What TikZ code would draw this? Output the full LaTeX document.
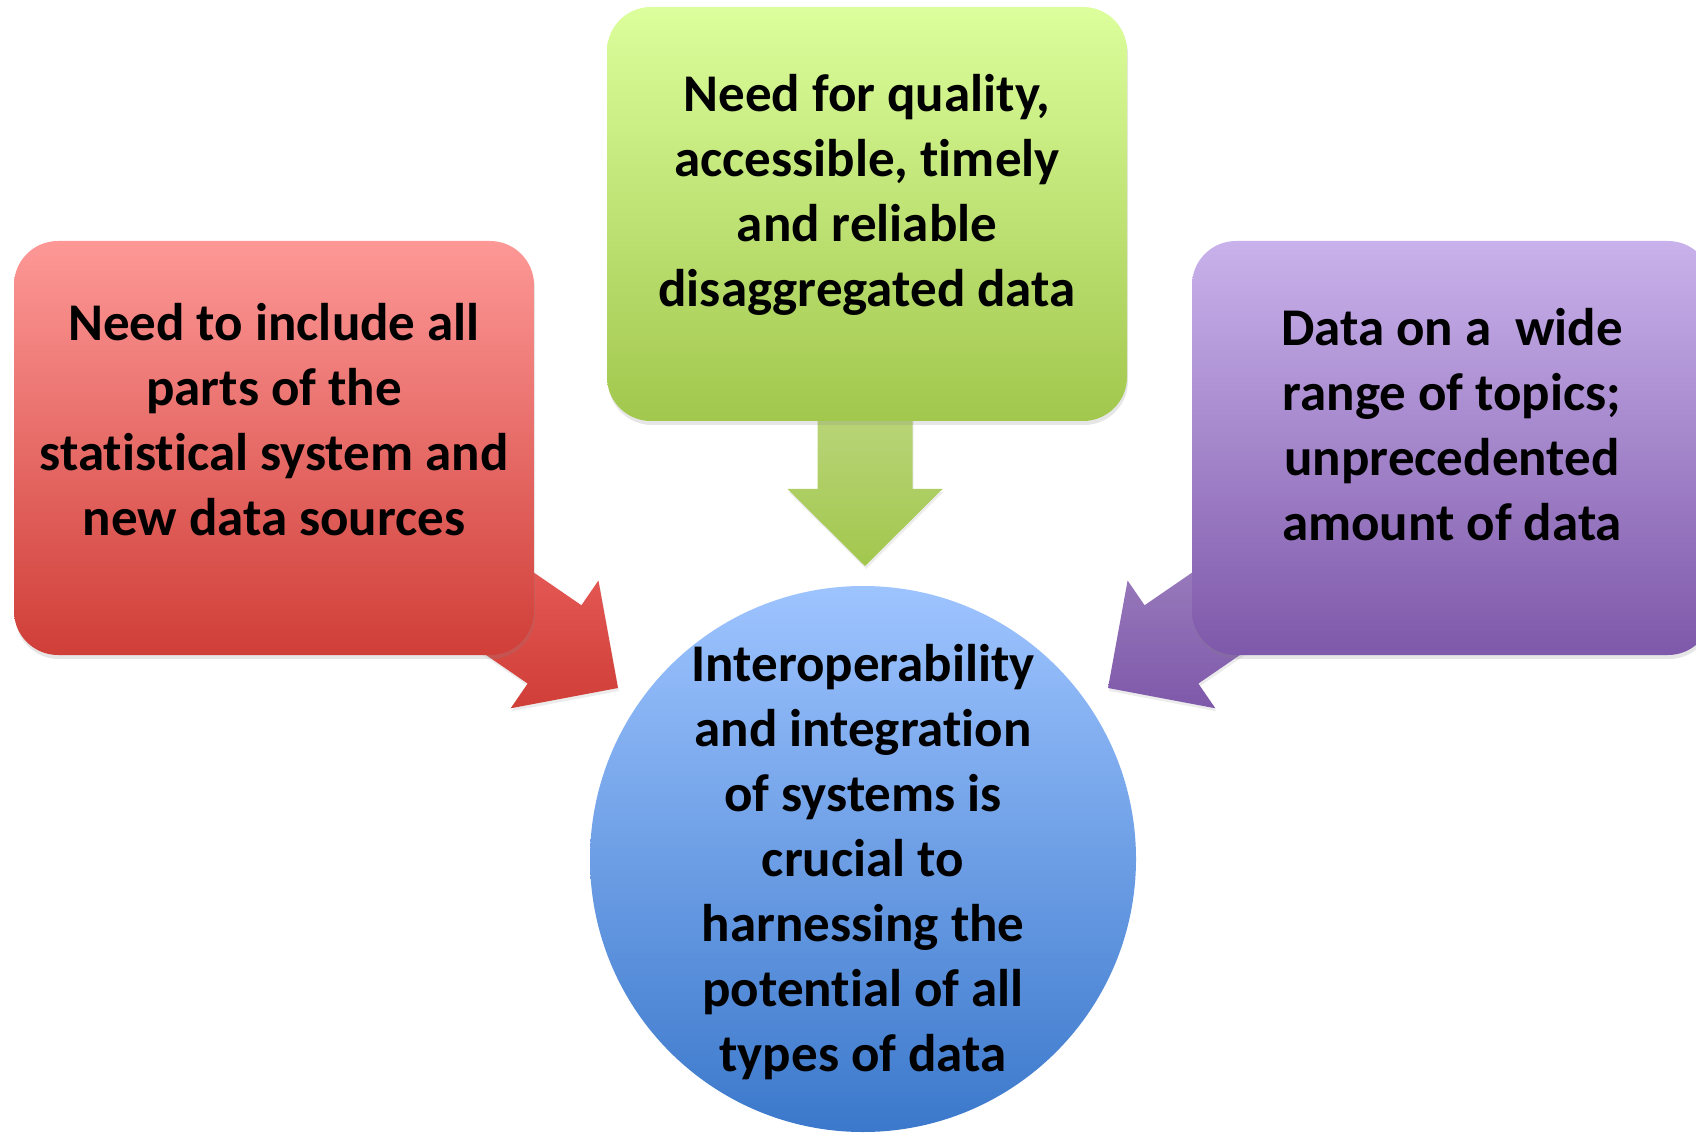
\documentclass[tikz,border=0pt]{standalone}
\usepackage{fontspec}
\setmainfont{Carlito}[Ligatures=NoCommon]
\usepackage{tikz}
\usetikzlibrary{calc,shadows}
\definecolor{redtop}{HTML}{FD9896}
\definecolor{redbot}{HTML}{D03E38}
\definecolor{greentop}{HTML}{DCFE9C}
\definecolor{greenbot}{HTML}{A2C74D}
\definecolor{purptop}{HTML}{C9B2EB}
\definecolor{purpbot}{HTML}{7E58AA}
\definecolor{bluetop}{HTML}{9EC4FF}
\definecolor{bluebot}{HTML}{3B78CB}
\tikzset{
  box/.style={rectangle, rounded corners=22pt, minimum width=260pt, minimum height=207pt,
              inner sep=0pt, drop shadow={opacity=0.2, shadow xshift=0.5pt, shadow yshift=-2pt}},
  inclbox/.style={box, top color=redtop, bottom color=redbot},
  qualbox/.style={box, top color=greentop, bottom color=greenbot},
  rangebox/.style={box, top color=purptop, bottom color=purpbot},
  hub/.style={circle, minimum size=273pt, inner sep=0pt, top color=bluetop, bottom color=bluebot},
  txt/.style={align=center, font=\fontsize{26.5}{32.5}\selectfont\bfseries, text=black, inner sep=0pt},
  blk/.style={draw=none, drop shadow={opacity=0.15, shadow xshift=0.5pt, shadow yshift=-1.5pt}},
  redarr/.style={blk, top color=red!45!redbot!70!white, bottom color=redbot},
  greenarr/.style={blk, top color=greenbot!70!white, bottom color=greenbot},
  purparr/.style={blk, top color=purpbot!70!white, bottom color=purpbot}
}
% block arrow: style, foot, tip
\newcommand{\blockarrow}[3]{%
  \coordinate (#3-h) at ($(#3)!38.5pt!(#2)$);
  \path[#1] ($(#2)!23.75pt!90:(#3)$) -- ($(#3-h)!23.75pt!90:(#3)$) -- ($(#3-h)!38.75pt!90:(#3)$)
    -- (#3) -- ($(#3-h)!38.75pt!-90:(#3)$) -- ($(#3-h)!23.75pt!-90:(#3)$) -- ($(#2)!23.75pt!-90:(#3)$) -- cycle;}

\begin{document}
\begin{tikzpicture}[x=0.5pt,y=-0.5pt]
  \clip (0,0) rectangle (1696,1133);
  % arrows first, the boxes cover their feet
  \coordinate (inclfoot) at (404,541);
  \coordinate (incltip) at (618,688);
  \coordinate (qualfoot) at (865,380);
  \coordinate (qualtip) at (865,566);
  \coordinate (rangefoot) at (1322,541);
  \coordinate (rangetip) at (1108,688);
  \blockarrow{redarr}{inclfoot}{incltip}
  \blockarrow{greenarr}{qualfoot}{qualtip}
  \blockarrow{purparr}{rangefoot}{rangetip}

  \node[inclbox] (incl) at (274,448) {};
  \node[txt] (incl-t) at ([yshift=14pt]incl.center) {Need to include all\\parts of the\\statistical system and\\new data sources};
  \node[qualbox] (qual) at (867,214) {};
  \node[txt] (qual-t) at ([yshift=9.4pt]qual.center) {Need for quality,\\accessible, timely\\and reliable\\disaggregated data};
  \node[rangebox] (range) at (1452,448) {};
  \node[txt] (range-t) at ([yshift=11.5pt]range.center) {Data on a~ wide\\range of topics;\\unprecedented\\amount of data};

  \node[hub] (hub) at (863,859) {};
  \node[txt] (hub-t) at ([yshift=-1.7pt]hub.center) {Interoperability\\and integration\\of systems is\\crucial to\\harnessing the\\potential of all\\types of data};
\end{tikzpicture}
\end{document}
